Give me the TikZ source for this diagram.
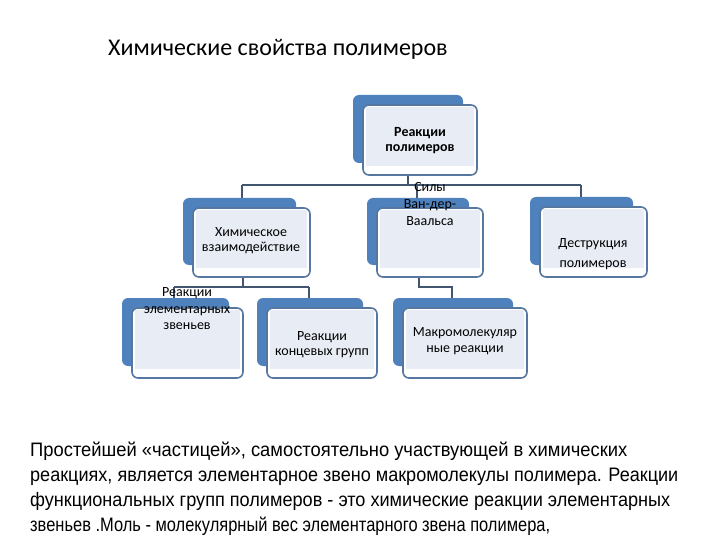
\documentclass[tikz,border=0pt]{standalone}
\usepackage{fontspec}
\setmainfont{Carlito}
\newfontfamily\bodyfont{Liberation Sans}
\usetikzlibrary{fit,calc}
\definecolor{backc}{HTML}{4F81BD}
\definecolor{framec}{HTML}{56779F}
\definecolor{innerc}{HTML}{E8EDF5}
\definecolor{connc}{HTML}{435670}
\tikzset{
  backbox/.style={fill=backc, draw=none, rounded corners=6pt, inner sep=0pt},
  frontbox/.style={fill=white, draw=framec, line width=1.6pt, rounded corners=6pt, inner sep=0pt},
  conn/.style={draw=connc, line width=2pt},
  boxtext/.style={align=center, font=\fontsize{14}{15}\selectfont, inner sep=0pt},
  bodyline/.style={anchor=base west, inner sep=0pt, font=\bodyfont\fontsize{19.5}{25}\selectfont}
}
\newcommand\smartbox[5]{%
  \node[backbox, fit={(#2-10,#3-10) (#4-14,#5-12)}] (#1-b) {};
  \node[frontbox, fit={(#2,#3) (#4,#5)}] (#1) {};
  \fill[innerc] ($(#1.north west)+(4,3)$) rectangle ($(#1.south east)+(-4,-10)$);
}
\newcommand\fitline[2]{\resizebox{#1pt}{\height}{#2}}
\begin{document}
\begin{tikzpicture}[x=1pt,y=-1pt]
\useasboundingbox (0,0) rectangle (720,540);
\node[anchor=base west, inner sep=0pt, font=\fontsize{24}{28}\selectfont] (title) at (108,56) {Химические свойства полимеров};
% connectors (drawn first)
\coordinate (h1l) at (242,185);
\coordinate (h1r) at (581,185);
\coordinate (h1m) at (417,185);
\coordinate (h2l) at (174,287);
\coordinate (h2r) at (309,287);
\coordinate (h3) at (452,287);
\draw[conn] (408,175) -- (408,185);
\draw[conn] (h1l) -- (h1r);
\draw[conn] (h1l) -- (242,198);
\draw[conn] (h1r) -- (581,198);
\draw[conn] (h1m) -- (417,198);
\draw[conn] (243,277) -- (243,287);
\draw[conn] (h2l) -- (h2r);
\draw[conn] (h2l) -- (174,298);
\draw[conn] (h2r) -- (309,298);
\draw[conn] (419,277) -- (419,287) -- (h3) -- (452,298);
% boxes
\smartbox{top}{363}{105}{477}{175}
\smartbox{chem}{193}{208}{310}{277}
\smartbox{vdw}{377}{208}{483}{277}
\smartbox{destr}{540}{207}{647}{277}
\smartbox{elem}{132}{308}{243}{378}
\smartbox{conc}{267}{308}{377}{378}
\smartbox{macro}{403}{308}{527}{378}
% texts
\node[boxtext, font=\bfseries\fontsize{14}{15}\selectfont] (t-top) at (420,141) {Реакции\\полимеров};
\node[boxtext] (t-chem) at (251,241) {Химическое\\взаимодействие};
\node[boxtext, font=\fontsize{14}{17}\selectfont] (t-vdw) at (430,204) {Силы\\Ван-дер-\\Ваальса};
\node[boxtext, font=\fontsize{14}{20}\selectfont] (t-destr) at (593,254) {Деструкция\\полимеров};
\node[boxtext, font=\fontsize{14}{16.5}\selectfont] (t-elem) at (187,309) {Реакции\\элементарных\\звеньев};
\node[boxtext] (t-conc) at (322,344.5) {Реакции\\концевых групп};
\node[boxtext, font=\fontsize{14}{16}\selectfont] (t-macro) at (465,341) {Макромолекуляр\\ные реакции};
% paragraph
\node[bodyline] (p1) at (30,456) {\fitline{597}{Простейшей «частицей», самостоятельно участвующей в химических}};
\node[bodyline] (p2) at (30,481) {\fitline{648}{реакциях, является элементарное звено макромолекулы полимера. Реакции}};
\node[bodyline] (p3) at (30,506) {\fitline{640}{функциональных групп полимеров - это химические реакции элементарных}};
\node[bodyline] (p4) at (30,531) {\fitline{520}{звеньев .Моль - молекулярный вес элементарного звена полимера,}};
\end{tikzpicture}
\end{document}
